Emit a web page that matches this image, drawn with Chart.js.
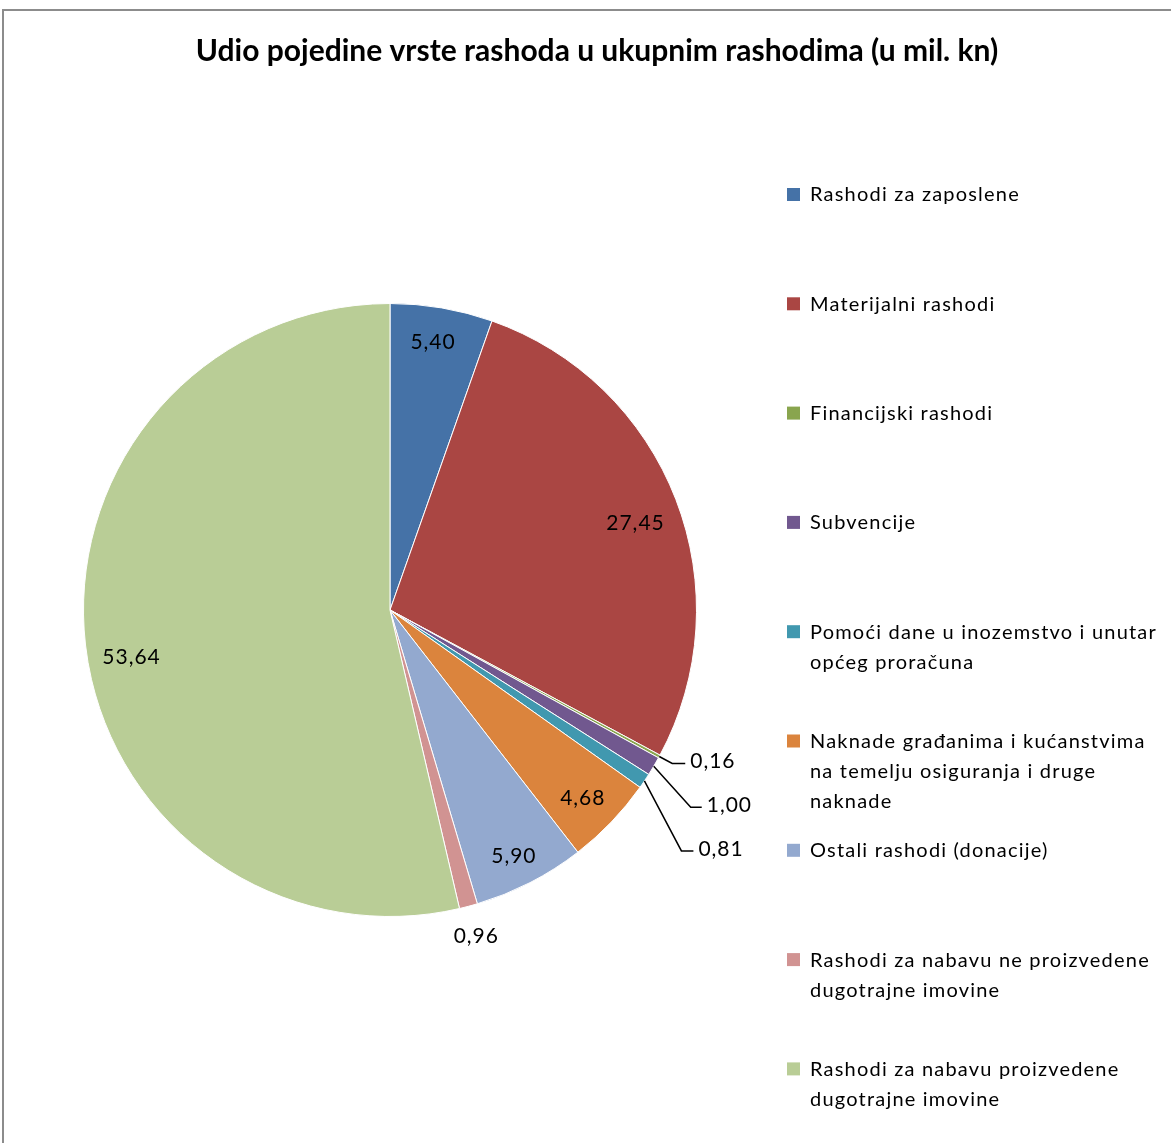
<!DOCTYPE html>
<html lang="hr">
<head>
<meta charset="UTF-8">
<title>Udio pojedine vrste rashoda u ukupnim rashodima</title>
<script src="https://cdn.jsdelivr.net/npm/chart.js"></script>
<style>
    html, body { margin: 0; padding: 0; background: #fff; }
    canvas { display: block; }
</style>
</head>
<body>
<canvas id="pieChart" width="1171" height="1143"></canvas>
<script>
const chartTitle = 'Udio pojedine vrste rashoda u ukupnim rashodima (u mil. kn)';
// legend labels, already split into lines the way the original wraps them
const categories = [
    ['Rashodi za zaposlene'],
    ['Materijalni rashodi'],
    ['Financijski rashodi'],
    ['Subvencije'],
    ['Pomoći dane u inozemstvo i unutar', 'općeg proračuna'],
    ['Naknade građanima i kućanstvima', 'na temelju osiguranja i druge', 'naknade'],
    ['Ostali rashodi (donacije)'],
    ['Rashodi za nabavu ne proizvedene', 'dugotrajne imovine'],
    ['Rashodi za nabavu proizvedene', 'dugotrajne imovine']
];
const values = [5.40, 27.45, 0.16, 1.00, 0.81, 4.68, 5.90, 0.96, 53.64];
const colors = ['#4572A7', '#AA4643', '#89A54E', '#71588F', '#4198AF', '#DB843D', '#93A9CF', '#D19392', '#B9CD96'];

const FONT = 'Lato, "Open Sans", sans-serif';

// where each value label goes: r = fraction of radius, da = angle nudge (deg),
// or a leader line with the elbow offset from the rim
const labelPlace = [
    {r: 0.886, da: -0.6},
    {r: 0.85, da: 1.6},
    {dx: 13, dy: 7, len: 13},
    {dx: 37, dy: 41, len: 11},
    {dx: 37, dy: 70, len: 12},
    {r: 0.88, da: 0.6},
    {r: 0.9, da: 0.5},
    {r: 1.1, da: 0},
    {r: 0.857, da: -3.7}
];

function fmt(v) {
    return v.toFixed(2).replace('.', ',');
}

const decorPlugin = {
    id: 'decor',
    beforeDraw(chart) {
        const ctx = chart.ctx;
        ctx.save();
        ctx.fillStyle = '#fff';
        ctx.fillRect(0, 0, chart.width, chart.height);
        ctx.strokeStyle = '#8c8c8c';
        ctx.lineWidth = 2;
        ctx.strokeRect(3, 10, chart.width + 20, chart.height + 20);
        ctx.restore();
    },
    afterDatasetsDraw(chart) {
        const ctx = chart.ctx;
        const arcs = chart.getDatasetMeta(0).data;
        ctx.save();
        ctx.fillStyle = '#000';
        ctx.strokeStyle = '#000';
        ctx.lineWidth = 1.5;
        ctx.font = '21px ' + FONT;
        ctx.letterSpacing = '1px';
        ctx.textBaseline = 'middle';
        arcs.forEach((arc, i) => {
            const p = arc.getProps(['x', 'y', 'startAngle', 'endAngle', 'outerRadius'], true);
            const place = labelPlace[i];
            const mid = (p.startAngle + p.endAngle) / 2 + (place.da || 0) * Math.PI / 180;
            const cos = Math.cos(mid), sin = Math.sin(mid);
            const txt = fmt(values[i]);
            if (place.r) {
                const r = p.outerRadius * place.r;
                ctx.textAlign = 'center';
                ctx.fillText(txt, p.x + r * cos, p.y + r * sin);
            } else {
                const ex = p.x + p.outerRadius * cos;
                const ey = p.y + p.outerRadius * sin;
                const kx = ex + place.dx, ky = ey + place.dy;
                ctx.beginPath();
                ctx.moveTo(ex, ey);
                ctx.lineTo(kx, ky);
                ctx.lineTo(kx + place.len, ky);
                ctx.stroke();
                ctx.textAlign = 'left';
                ctx.fillText(txt, kx + place.len + 5, ky - 2);
            }
        });
        ctx.restore();
    },
    afterDraw(chart) {
        const ctx = chart.ctx;
        ctx.save();
        // title
        ctx.fillStyle = '#000';
        ctx.font = 'bold 30px ' + FONT;
        ctx.textAlign = 'center';
        ctx.textBaseline = 'middle';
        ctx.fillText(chartTitle, 597, 51);
        // legend
        ctx.font = '20px ' + FONT;
        ctx.letterSpacing = '1.2px';
        ctx.textAlign = 'left';
        categories.forEach((lines, i) => {
            const y = 195 + i * 109.3;
            ctx.fillStyle = colors[i];
            ctx.fillRect(787, y - 7, 13, 13);
            ctx.fillStyle = '#000';
            lines.forEach((line, j) => {
                ctx.fillText(line, 810, y + j * 30);
            });
        });
        ctx.restore();
    }
};

new Chart(document.getElementById('pieChart'), {
    type: 'pie',
    data: {
        labels: categories.map(l => l.join(' ')),
        datasets: [{
            data: values,
            backgroundColor: colors,
            borderColor: '#fff',
            borderWidth: 1
        }]
    },
    options: {
        responsive: false,
        animation: false,
        layout: {
            padding: {left: 83, right: 474, top: 303, bottom: 226}
        },
        plugins: {
            legend: {display: false},
            title: {display: false},
            tooltip: {enabled: false}
        }
    },
    plugins: [decorPlugin]
});
</script>
</body>
</html>
